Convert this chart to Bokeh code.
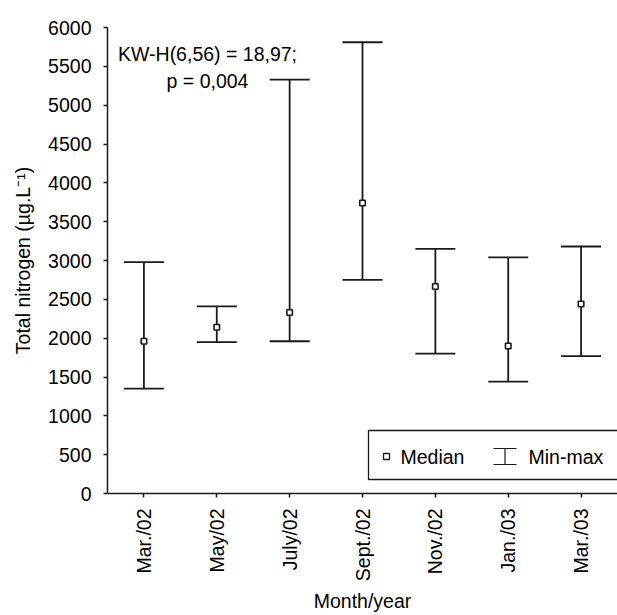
from bokeh.plotting import figure
from bokeh.models import ColumnDataSource, Whisker, TeeHead, Label, BoxAnnotation, FixedTicker
from bokeh.embed import file_html
from bokeh.resources import INLINE
import math

# ---- data ----
months = ["Mar./02", "May/02", "July/02", "Sept./02", "Nov./02", "Jan./03", "Mar./03"]
tn_min = [1350, 1950, 1960, 2750, 1800, 1440, 1770]
tn_median = [1960, 2140, 2330, 3740, 2665, 1900, 2440]
tn_max = [2980, 2410, 5330, 5810, 3150, 3040, 3180]
y_ticks = [0, 500, 1000, 1500, 2000, 2500, 3000, 3500, 4000, 4500, 5000, 5500, 6000]
stat_line1 = "KW-H(6,56) = 18,97;"
stat_line2 = "p = 0,004"

FONT = "Liberation Sans"
FS = "19.5px"
INK = "#1a1a1a"

src = ColumnDataSource(dict(month=months, lo=tn_min, med=tn_median, hi=tn_max))

p = figure(width=617, height=615, x_range=months, y_range=(0, 6000),
           output_backend="svg", toolbar_location=None,
           min_border_left=107, min_border_right=0, min_border_top=27, min_border_bottom=122)
p.outline_line_color = None
p.xgrid.grid_line_color = None
p.ygrid.grid_line_color = None
p.background_fill_color = "white"
p.border_fill_color = "white"

# whiskers (min-max)
wh = Whisker(base="month", lower="lo", upper="hi", source=src, dimension="height",
             line_color=INK, line_width=1.8, level="underlay",
             upper_head=TeeHead(size=40, line_color=INK, line_width=1.8),
             lower_head=TeeHead(size=40, line_color=INK, line_width=1.8))
p.add_layout(wh)

# medians
p.scatter(x="month", y="med", source=src, marker="square", size=5.5,
          fill_color="white", line_color=INK, line_width=1.6)

# axes
for ax in (p.xaxis[0], p.yaxis[0]):
    ax.axis_line_color = INK
    ax.axis_line_width = 1.5
    ax.major_tick_line_color = INK
    ax.major_tick_line_width = 1.5
    ax.major_tick_in = 0
    ax.major_tick_out = 4
    ax.minor_tick_line_color = None
    ax.major_label_text_font = FONT
    ax.major_label_text_font_size = FS
    ax.major_label_text_color = "black"
    ax.axis_label_text_font = FONT
    ax.axis_label_text_font_size = FS
    ax.axis_label_text_font_style = "normal"
    ax.axis_label_text_color = "black"

p.yaxis.ticker = FixedTicker(ticks=y_ticks)
p.yaxis.major_label_standoff = 12
p.yaxis.axis_label = "Total nitrogen (\u00b5g.L\u207b\u00b9)"
p.yaxis.axis_label_standoff = 11

p.xaxis.major_label_orientation = math.pi / 2
p.xaxis.major_label_standoff = 11
p.xaxis.axis_label = "Month/year"
p.xaxis.axis_label_standoff = 6

# statistics text
for txt, yy in ((stat_line1, 440), (stat_line2, 413)):
    p.add_layout(Label(x=100, y=yy, x_units="screen", y_units="screen", text=txt,
                       text_align="center", text_baseline="middle",
                       text_font=FONT, text_font_size=FS, text_color="black"))


def sbox(l, r, b, t, **kw):
    return BoxAnnotation(left=l, right=r, bottom=b, top=t,
                         left_units="screen", right_units="screen",
                         bottom_units="screen", top_units="screen", **kw)


# legend (drawn as screen-space annotations)
p.add_layout(sbox(261, 540, 14, 63, fill_color="white", fill_alpha=1.0,
                  line_color=INK, line_alpha=1.0, line_width=1.3))
p.add_layout(sbox(276, 282, 34, 40, fill_color="white", fill_alpha=1.0,
                  line_color=INK, line_alpha=1.0, line_width=1.3))
p.add_layout(Label(x=293, y=37, x_units="screen", y_units="screen", text="Median",
                   text_align="left", text_baseline="middle",
                   text_font=FONT, text_font_size=FS, text_color="black"))
# min-max icon: top cap, bottom cap, stem
for (l, r, b, t) in ((386, 409, 44.4, 45.6), (386, 409, 28.4, 29.6), (396.9, 398.1, 29, 45)):
    p.add_layout(sbox(l, r, b, t, fill_color=INK, fill_alpha=1.0, line_color=None))
p.add_layout(Label(x=421, y=37, x_units="screen", y_units="screen", text="Min-max",
                   text_align="left", text_baseline="middle",
                   text_font=FONT, text_font_size=FS, text_color="black"))

open("out.html", "w").write(file_html(p, INLINE))
